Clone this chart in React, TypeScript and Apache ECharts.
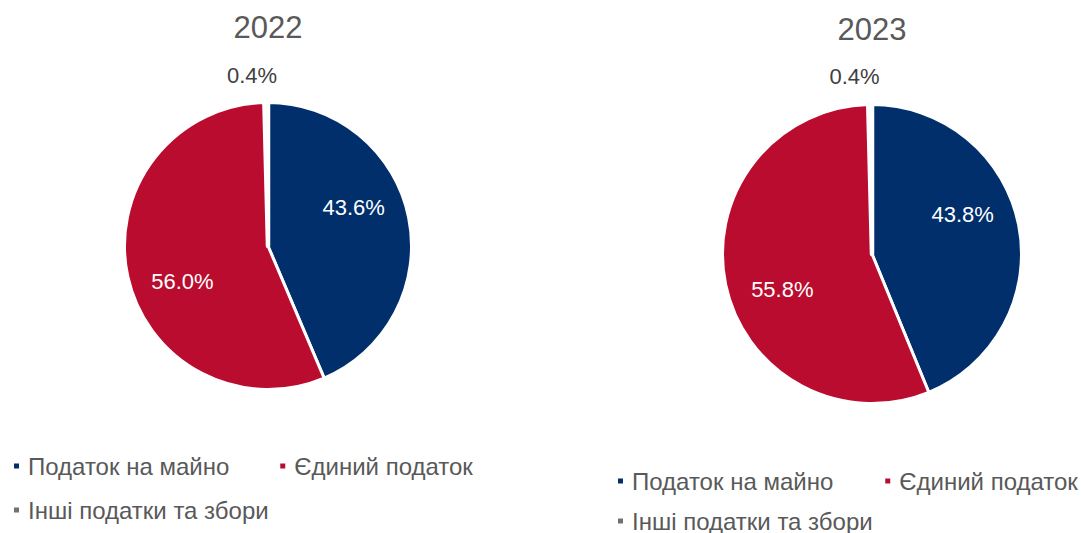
import React, { useEffect, useRef } from "react";
import * as echarts from "echarts";

const CATEGORIES = ["Податок на майно", "Єдиний податок", "Інші податки та збори"];
const YEARS = ["2022", "2023"];
const VALUES_2022 = [43.6, 56.0, 0.4];
const VALUES_2023 = [43.8, 55.8, 0.4];
const COLORS = ["#002F6C", "#BA0C2F", "#747070"];

const FONT = "'Liberation Sans', Arial, sans-serif";

const PIES = [
  { cx: 268, cy: 246, r: 143.5, values: VALUES_2022, titleY: 27.5, inOff: [[12.4, -23.8], [-12.6, 19.9]], outX: -16, outY: -28.5,
    legendLeft: 12, legendTop1: 454, legendTop2: 498, gap: 49 },
  { cx: 872, cy: 254, r: 149.5, values: VALUES_2023, titleY: 29.5, inOff: [[14.4, -24.7], [-13.6, 19.8]], outX: -17.5, outY: -30,
    legendLeft: 616, legendTop1: 469, legendTop2: 509, gap: 50 },
];

export default function App() {
  const ref = useRef<HTMLDivElement>(null);
  useEffect(() => {
    if (!ref.current) return;
    const chart = echarts.init(ref.current, null, { renderer: "svg" });
    const series = PIES.map((p, si) => ({
      type: "pie",
      name: YEARS[si],
      center: [p.cx, p.cy],
      radius: p.r,
      startAngle: 90,
      clockwise: true,
      avoidLabelOverlap: false,
      itemStyle: { borderColor: "#ffffff", borderWidth: 3 },
      label: {
        show: true,
        position: "inside",
        formatter: (d: any) => d.value.toFixed(1) + "%",
        color: "#ffffff",
        fontSize: 22,
        fontFamily: FONT,
      },
      labelLine: { show: false },
      emphasis: { disabled: true },
      labelLayout: (params: any) => {
        if (params.dataIndex === 2) {
          return { x: p.cx + p.outX, y: p.cy - (p.r - 1.5) + p.outY, align: "center", verticalAlign: "middle" };
        }
        const o = p.inOff[params.dataIndex];
        return { dx: o[0], dy: o[1] };
      },
      data: CATEGORIES.map((name, i) => ({
        name,
        value: p.values[i],
        itemStyle: i === 2 ? { color: COLORS[i], borderWidth: 4.5 } : { color: COLORS[i] },
        ...(i === 2
          ? { label: { position: "outside", color: "#404040" }, labelLine: { show: false } }
          : {}),
      })),
    }));

    const legends: any[] = [];
    PIES.forEach((p) => {
      const base = {
        orient: "horizontal",
        left: p.legendLeft,
        padding: 0,
        icon: "rect",
        itemWidth: 7,
        itemHeight: 7,
        selectedMode: false,
        textStyle: { color: "#595959", fontSize: 24, fontFamily: FONT, lineHeight: 24, padding: [0, 0, 0, 3] },
      };
      legends.push({ ...base, top: p.legendTop1, itemGap: p.gap, data: [CATEGORIES[0], CATEGORIES[1]] });
      legends.push({ ...base, top: p.legendTop2, data: [CATEGORIES[2]] });
    });

    chart.setOption({
      animation: false,
      backgroundColor: "#ffffff",
      legend: legends,
      graphic: PIES.map((p, i) => ({
        type: "text",
        x: p.cx,
        y: p.titleY,
        style: {
          text: YEARS[i],
          fill: "#595959",
          font: `31px ${FONT}`,
          textAlign: "center",
          textVerticalAlign: "middle",
        },
      })),
      series,
    });
    return () => chart.dispose();
  }, []);
  return <div ref={ref} style={{ width: 1081, height: 533, position: "absolute", left: 0, top: 0 }} />;
}
